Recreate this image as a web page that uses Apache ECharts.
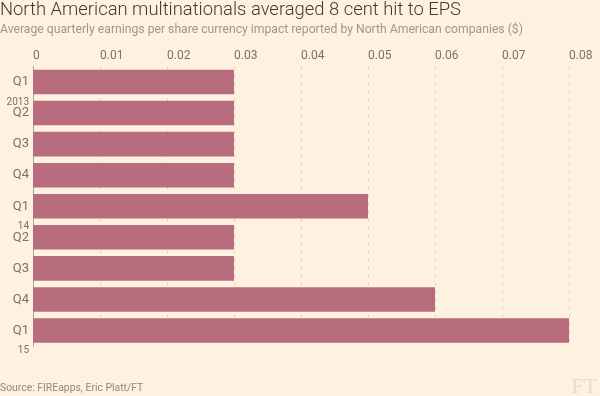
<!DOCTYPE html>
<html>
<head>
<meta charset="utf-8">
<script src="https://cdn.jsdelivr.net/npm/echarts@6/dist/echarts.min.js"></script>
<style>
  html, body { margin: 0; padding: 0; background: #fff1e0; }
  #chart { width: 600px; height: 396px; }
</style>
</head>
<body>
<div id="chart"></div>
<script>
const quarters = ['Q1', 'Q2', 'Q3', 'Q4', 'Q1', 'Q2', 'Q3', 'Q4', 'Q1'];
const years = ['2013', '', '', '', '14', '', '', '', '15'];
const categories = ['2013 Q1', '2013 Q2', '2013 Q3', '2013 Q4', '2014 Q1', '2014 Q2', '2014 Q3', '2014 Q4', '2015 Q1'];
const epsHit = [0.03, 0.03, 0.03, 0.03, 0.05, 0.03, 0.03, 0.06, 0.08];

const titleText = 'North American multinationals averaged 8 cent hit to EPS';
const subtitleText = 'Average quarterly earnings per share currency impact reported by North American companies ($)';
const sourceText = 'Source: FIREapps, Eric Platt/FT';

const font = 'Roboto, "Noto Sans", sans-serif';
const labelGrey = '#74736c';

const chart = echarts.init(document.getElementById('chart'));

chart.setOption({
  backgroundColor: '#fff1e0',
  animation: false,
  title: [
    {
      text: titleText,
      subtext: subtitleText,
      left: 0,
      top: 1,
      padding: 0,
      itemGap: 5,
      textStyle: { fontFamily: font, fontWeight: 300, fontSize: 18.4, color: '#3d3b38' },
      subtextStyle: { fontFamily: font, fontWeight: 400, fontSize: 12.2, color: '#9c9891' },
    },
    {
      text: sourceText,
      left: 0,
      top: 383,
      padding: 0,
      textStyle: { fontFamily: font, fontWeight: 400, fontSize: 10.4, color: '#8e8a83' },
    },
    {
      text: 'FT',
      right: 3,
      top: 376,
      padding: 0,
      textStyle: { fontFamily: '"Liberation Serif", serif', fontWeight: 400, fontSize: 22, color: '#eadbc7' },
    },
  ],
  grid: { left: 33, right: 31, top: 66.5, bottom: 50 },
  xAxis: {
    type: 'value',
    position: 'top',
    min: 0,
    max: 0.08,
    interval: 0.01,
    axisLine: { show: false },
    axisTick: { show: false },
    axisLabel: {
      align: 'left',
      margin: 5,
      color: labelGrey,
      fontFamily: font,
      fontSize: 12,
    },
    splitLine: {
      show: true,
      showMinLine: false,
      lineStyle: { color: '#dccfbe', type: [3, 5], width: 1 },
    },
  },
  yAxis: [
    {
      type: 'category',
      data: categories,
      inverse: true,
      axisLine: { show: true, lineStyle: { color: '#a8a49b', width: 1 } },
      axisTick: { show: false },
      axisLabel: {
        margin: 4,
        color: labelGrey,
        fontFamily: font,
        fontSize: 13,
        formatter: (v, i) => quarters[i],
      },
    },
    {
      type: 'category',
      data: categories,
      inverse: true,
      position: 'left',
      axisLine: { show: false },
      axisTick: { show: false },
      axisLabel: {
        margin: 4,
        color: labelGrey,
        fontFamily: font,
        fontSize: 10,
        lineHeight: 20,
        formatter: (v, i) => (years[i] ? '\n\n' + years[i] : ''),
      },
    },
  ],
  series: [
    {
      type: 'bar',
      data: epsHit,
      yAxisIndex: 0,
      barCategoryGap: '21%',
      itemStyle: { color: '#b86d7f' },
    },
  ],
});
</script>
</body>
</html>
